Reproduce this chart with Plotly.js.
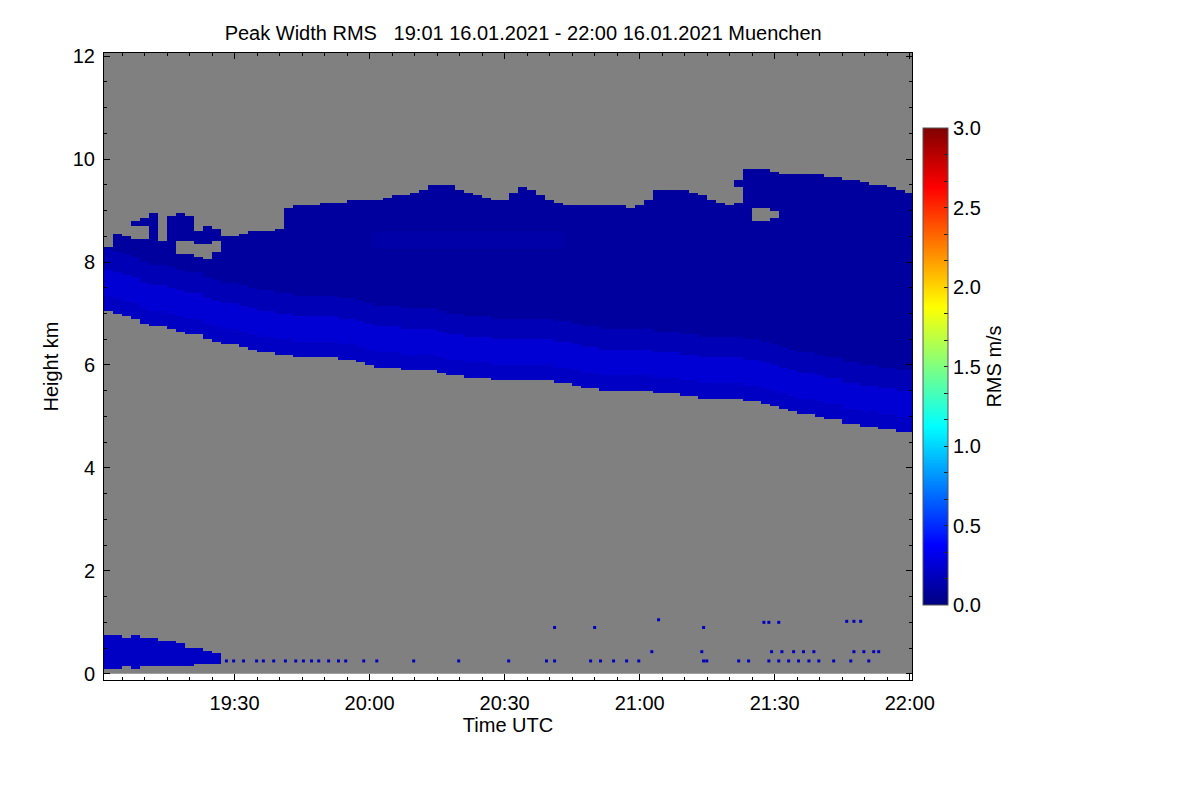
<!DOCTYPE html>
<html>
<head>
<meta charset="utf-8">
<script src="https://cdn.plot.ly/plotly-3.0.1.min.js"></script>
<style>
  html, body { margin: 0; padding: 0; background: #ffffff; }
  #chart { width: 1200px; height: 800px; }
</style>
</head>
<body>
<div id="chart"></div>
<script>
// column centres, minutes after 19:00 (2 min profiles)
const colMinutes = [
  2, 4, 6, 8, 10, 12, 14, 16, 18, 20, 22, 24, 26, 28, 30, 32, 34, 36, 38, 40,
  42, 44, 46, 48, 50, 52, 54, 56, 58, 60, 62, 64, 66, 68, 70, 72, 74, 76, 78, 80,
  82, 84, 86, 88, 90, 92, 94, 96, 98, 100, 102, 104, 106, 108, 110, 112, 114, 116, 118, 120,
  122, 124, 126, 128, 130, 132, 134, 136, 138, 140, 142, 144, 146, 148, 150, 152, 154, 156, 158, 160,
  162, 164, 166, 168, 170, 172, 174, 176, 178, 180
];

// lower edge of the cloud (km)
const cloudBase = [
  7.05, 6.98, 6.95, 6.9, 6.78, 6.75, 6.75, 6.7, 6.65, 6.6,
  6.58, 6.48, 6.45, 6.42, 6.38, 6.33, 6.3, 6.27, 6.23, 6.2,
  6.18, 6.17, 6.16, 6.15, 6.15, 6.14, 6.12, 6.1, 6.05, 6.0,
  5.97, 5.95, 5.93, 5.91, 5.9, 5.89, 5.88, 5.86, 5.82, 5.8,
  5.77, 5.75, 5.73, 5.72, 5.72, 5.71, 5.7, 5.69, 5.68, 5.68,
  5.66, 5.64, 5.6, 5.56, 5.54, 5.52, 5.5, 5.5, 5.5, 5.5,
  5.48, 5.47, 5.46, 5.44, 5.42, 5.4, 5.37, 5.36, 5.35, 5.34,
  5.33, 5.32, 5.28, 5.24, 5.2, 5.15, 5.1, 5.07, 5.04, 5.0,
  4.97, 4.93, 4.87, 4.84, 4.8, 4.78, 4.76, 4.74, 4.71, 4.69
];

// upper edge of the cloud (km)
const cloudTop = [
  8.3, 8.55, 8.48, 8.8, 8.85, 8.95, 8.4, 8.9, 8.95, 8.9,
  8.6, 8.7, 8.65, 8.5, 8.5, 8.55, 8.58, 8.6, 8.62, 8.65,
  9.05, 9.1, 9.12, 9.12, 9.13, 9.15, 9.15, 9.18, 9.2, 9.22,
  9.22, 9.25, 9.28, 9.32, 9.33, 9.4, 9.48, 9.5, 9.48, 9.4,
  9.35, 9.3, 9.25, 9.22, 9.2, 9.35, 9.45, 9.42, 9.3, 9.2,
  9.15, 9.12, 9.12, 9.1, 9.1, 9.12, 9.1, 9.08, 9.05, 9.08,
  9.2, 9.38, 9.42, 9.42, 9.4, 9.35, 9.3, 9.22, 9.15, 9.08,
  9.6, 9.78, 9.8, 9.78, 9.75, 9.72, 9.72, 9.7, 9.7, 9.68,
  9.65, 9.64, 9.6, 9.58, 9.55, 9.52, 9.48, 9.44, 9.4, 9.36
];

// empty pockets inside the cloud top (km), null = none
const gapLow = [
  null, null, null, 8.45, 8.45, null, null, null, 8.15, 8.15,
  8.1, 8.05, 8.2, null, null, null, null, null, null, null,
  null, null, null, null, null, null, null, null, null, null,
  null, null, null, null, null, null, null, null, null, null,
  null, null, null, null, null, null, null, null, null, null,
  null, null, null, null, null, null, null, null, null, null,
  null, null, null, null, null, null, null, null, null, null,
  9.15, null, 8.8, 8.78, 8.85, null, null, null, null, null,
  null, null, null, null, null, null, null, null, null, null
];
const gapHigh = [
  null, null, null, 8.72, 8.72, null, null, null, 8.4, 8.4,
  8.35, 8.35, 8.4, null, null, null, null, null, null, null,
  null, null, null, null, null, null, null, null, null, null,
  null, null, null, null, null, null, null, null, null, null,
  null, null, null, null, null, null, null, null, null, null,
  null, null, null, null, null, null, null, null, null, null,
  null, null, null, null, null, null, null, null, null, null,
  9.45, null, 9.03, 9.03, 9.0, null, null, null, null, null,
  null, null, null, null, null, null, null, null, null, null
];

// RMS bands counted upward from the cloud base (km above base -> m/s)
const bandTops = [0.3, 0.8, 1.2, 99];
const bandValues = [0.2, 0.25, 0.16, 0.09];

// slightly lighter layer near 8.4 km, 20:02 - 20:43
const hazeFrom = 62, hazeTo = 103, hazeLow = 8.25, hazeHigh = 8.58, hazeValue = 0.12;

// near-ground echoes 19:01 - 19:26
const lowTop = [0.76, 0.74, 0.72, 0.76, 0.7, 0.72, 0.66, 0.64, 0.62, 0.52, 0.5, 0.44, 0.4];
const lowBase = [0.12, 0.12, 0.14, 0.12, 0.13, 0.14, 0.14, 0.13, 0.15, 0.16, 0.18, 0.2, 0.22];
const lowValue = 0.2;

// isolated echoes (minutes after 19:00, km)
const dotMinutes = [
  28.2, 29.8, 32, 34.9, 36.4, 38.7, 41.3, 43.6, 45.3, 47.1, 48.7, 50.9, 53.1, 54.7, 58.7, 61.6,
  69.8, 79.8, 90.9, 99.3, 101.1, 109.1, 111.3, 114.2, 117.1, 119.8, 134.2, 134.9, 142, 144.2,
  148.7, 150.9, 153.1, 155.3, 157.6, 159.8, 163.1, 166.9, 170.9,
  122.7, 133.8, 149.3, 151.6, 154.2, 156.4, 158.7, 167.6, 169.8, 172, 173.1,
  101.1, 110, 124.2, 134.2, 147.6, 148.7, 150.9, 166, 167.6, 169.1
];
const dotHeights = [
  0.25, 0.25, 0.25, 0.25, 0.25, 0.25, 0.25, 0.25, 0.25, 0.25, 0.25, 0.25, 0.25, 0.25, 0.25, 0.25,
  0.25, 0.25, 0.25, 0.25, 0.25, 0.25, 0.25, 0.25, 0.25, 0.25, 0.25, 0.25, 0.25, 0.25,
  0.25, 0.25, 0.25, 0.25, 0.25, 0.25, 0.25, 0.25, 0.25,
  0.43, 0.43, 0.43, 0.43, 0.43, 0.43, 0.43, 0.43, 0.43, 0.43, 0.43,
  0.9, 0.9, 1.05, 0.9, 1.0, 1.0, 1.0, 1.02, 1.02, 1.02
];

const rowStep = 0.05;
const rowCount = 200;

const pad = n => String(n).padStart(2, '0');
const toTime = m => {
  const s = Math.round(m * 60);
  const hh = 19 + Math.floor(s / 3600);
  const mm = Math.floor((s % 3600) / 60);
  const ss = s % 60;
  return `2021-01-16 ${pad(hh)}:${pad(mm)}:${pad(ss)}`;
};

const xs = colMinutes.map(toTime);
const ys = [];
for (let i = 0; i < rowCount; i++) ys.push(+((i + 0.5) * rowStep).toFixed(3));

const z = ys.map(h => colMinutes.map((m, j) => {
  let v = null;
  if (j < lowTop.length && h >= lowBase[j] && h <= lowTop[j]) v = lowValue;
  if (h >= cloudBase[j] && h <= cloudTop[j]) {
    const inGap = gapLow[j] !== null && h > gapLow[j] && h < gapHigh[j];
    if (!inGap) {
      const hab = h - cloudBase[j];
      let k = 0;
      while (hab > bandTops[k]) k++;
      v = bandValues[k];
      if (m >= hazeFrom && m <= hazeTo && h >= hazeLow && h <= hazeHigh) v = Math.max(v, hazeValue);
    }
  }
  return v;
}));

const jet = [
  [0, 'rgb(0,0,128)'], [0.125, 'rgb(0,0,255)'], [0.375, 'rgb(0,255,255)'],
  [0.625, 'rgb(255,255,0)'], [0.875, 'rgb(255,0,0)'], [1, 'rgb(128,0,0)']
];

const cbVals = [], cbText = [];
for (let k = 0; k <= 18; k++) {
  cbVals.push(k / 6);
  cbText.push(k % 3 === 0 ? (k / 6).toFixed(1) : '');
}

const FONT = 'Liberation Sans, Arial, Helvetica, sans-serif';
const FS = 20;

const data = [
  {
    type: 'heatmap', x: xs, y: ys, z: z,
    colorscale: jet, zmin: 0, zmax: 3, zsmooth: false, hoverinfo: 'skip',
    colorbar: {
      x: 1.0136, xanchor: 'left', xref: 'paper', xpad: 0,
      y: 0.5, yanchor: 'middle', ypad: 0,
      len: 477, lenmode: 'pixels', thickness: 25,
      outlinecolor: '#555', outlinewidth: 1, borderwidth: 0,
      ticks: 'inside', ticklen: 4, tickcolor: '#222', tickwidth: 1,
      tickmode: 'array', tickvals: cbVals, ticktext: cbText,
      tickfont: { family: FONT, size: FS, color: '#000' },
      title: { text: 'RMS m/s', side: 'right', font: { family: FONT, size: FS, color: '#000' } }
    }
  },
  {
    type: 'scatter', mode: 'markers', x: dotMinutes.map(toTime), y: dotHeights,
    marker: { symbol: 'square', size: 3, color: 'rgb(0,0,190)', line: { width: 0 } },
    hoverinfo: 'skip', showlegend: false
  }
];

const layout = {
  width: 1200, height: 800,
  margin: { l: 104, r: 288, t: 53, b: 120 },
  paper_bgcolor: '#ffffff', plot_bgcolor: '#ffffff',
  font: { family: FONT, size: FS, color: '#000' },
  showlegend: false,
  title: {
    text: 'Peak Width RMS\u00a0\u00a0\u00a019:01 16.01.2021 - 22:00 16.01.2021 Muenchen',
    x: 0.436, xanchor: 'center', y: 0.959, yanchor: 'middle',
    font: { family: FONT, size: FS, color: '#000' }
  },
  xaxis: {
    type: 'date',
    range: ['2021-01-16 19:01:00', '2021-01-16 22:00:30'],
    tick0: '2021-01-16 19:00:00', dtick: 1800000, tickformat: '%H:%M',
    ticks: 'inside', ticklen: 6, tickwidth: 1, tickcolor: '#000',
    minor: { dtick: 300000, ticks: 'inside', ticklen: 3, tickcolor: '#000', showgrid: false },
    showline: true, linecolor: '#000', linewidth: 1, mirror: 'ticks',
    showgrid: false, zeroline: false, ticklabelstandoff: 5,
    tickfont: { family: FONT, size: FS, color: '#000' },
    title: { text: 'Time UTC', standoff: 0, font: { family: FONT, size: FS, color: '#000' } }
  },
  yaxis: {
    range: [-0.12, 12.06], tick0: 0, dtick: 2,
    ticks: 'inside', ticklen: 6, tickwidth: 1, tickcolor: '#000',
    minor: { dtick: 0.5, ticks: 'inside', ticklen: 3, tickcolor: '#000', showgrid: false },
    showline: true, linecolor: '#000', linewidth: 1, mirror: 'ticks',
    showgrid: false, zeroline: false, ticklabelstandoff: 4,
    tickfont: { family: FONT, size: FS, color: '#000' },
    title: { text: 'Height km', standoff: 8, font: { family: FONT, size: FS, color: '#000' } }
  },
  shapes: [{
    type: 'rect', layer: 'below', xref: 'paper', yref: 'y',
    x0: 0, x1: 1, y0: 0, y1: 12.06,
    fillcolor: '#808080', line: { width: 0 }
  }]
};

Plotly.newPlot('chart', data, layout, { displayModeBar: false, staticPlot: true });
</script>
</body>
</html>
